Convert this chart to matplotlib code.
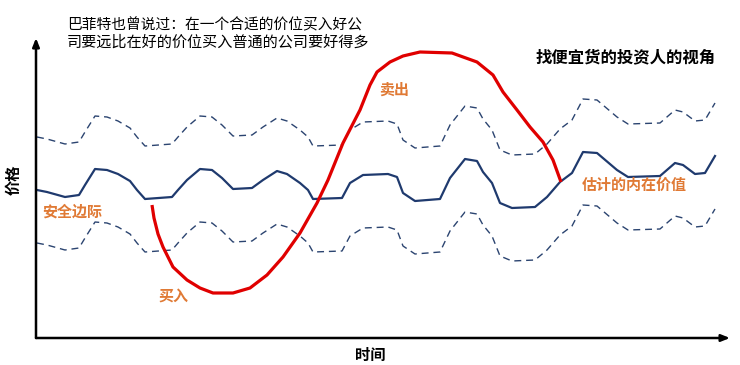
import matplotlib

matplotlib.use("Agg")
import matplotlib.pyplot as plt
import numpy as np

plt.rcParams["font.family"] = ["Noto Sans CJK SC", "DejaVu Sans"]

# estimated intrinsic value over time (arbitrary units)
value_time = [1, 11, 29, 43, 49, 59, 71, 82, 94, 101, 109, 136, 142, 151, 164, 176,
              186, 197, 216, 227, 241, 251, 264, 272, 277, 306, 314, 327, 352, 361,
              367, 379, 404, 414, 429, 441, 447, 456, 464, 476, 499, 511, 524, 536,
              547, 561, 581, 592, 624, 639, 647, 659, 669, 679]
value_level = [148, 146, 141, 143, 153, 169, 168, 164, 157, 148, 139, 141, 148, 158,
               169, 168, 160, 149, 150, 158, 167, 164, 155, 148, 139, 140, 155, 163,
               164, 161, 145, 137, 139, 160, 179, 177, 166, 155, 135, 130, 131, 141,
               156, 165, 186, 185, 168, 161, 162, 175, 173, 164, 165, 182]
safety_margin = 53

# market price path
price_time = [116, 118, 122, 127, 137, 151, 164, 177, 197, 214, 231, 247, 264, 281, 292,
              307, 324, 334, 341, 354, 367, 384, 416, 441, 457, 467, 481, 494, 507,
              517, 525]
price_level = [133, 120, 104, 91, 71, 58, 50, 45, 45, 50, 63, 81, 105, 135, 158, 195,
               228, 253, 266, 276, 282, 286, 285, 276, 263, 246, 228, 211, 196, 178, 156]

NAVY = "#1f3a6e"
DASH = "#2b4470"
RED = "#e00000"
ORANGE = "#e07a35"

W, H = 740, 365
fig = plt.figure(figsize=(W / 100, H / 100), dpi=100)
ax = fig.add_axes([36 / W, 27 / H, 694 / W, 300 / H])
ax.set_xlim(0, 694)
ax.set_ylim(0, 300)
ax.axis("off")

vt = np.array(value_time)
vl = np.array(value_level)
ax.plot(vt, vl, color=NAVY, lw=1.6, solid_joinstyle="round")
ax.plot(vt, vl + safety_margin, color=DASH, lw=1.0, dashes=(5, 3.5))
ax.plot(vt, vl - safety_margin, color=DASH, lw=1.0, dashes=(5, 3.5))
ax.plot(price_time, price_level, color=RED, lw=2.3, solid_capstyle="butt",
        solid_joinstyle="round")

# axes with arrow heads
arrow = {"arrowstyle": "-|>,head_length=0.5,head_width=0.2", "lw": 1.8, "color": "black",
         "shrinkA": 0, "shrinkB": 0}
ax.annotate("", xy=(0, 1.0), xytext=(0, 0), xycoords="axes fraction", arrowprops=arrow)
ax.annotate("", xy=(1.0, 0), xytext=(0, 0), xycoords="axes fraction", arrowprops=arrow)


def px(x, y):
    return x / W, 1 - y / H


fig.text(*px(67, 25), "巴菲特也曾说过：在一个合适的价位买入好公", fontsize=10.6,
         ha="left", va="center")
fig.text(*px(67, 42), "司要远比在好的价位买入普通的公司要好得多", fontsize=10.9,
         ha="left", va="center")
fig.text(*px(626, 57), "找便宜货的投资人的视角", fontsize=11.8, fontweight="bold",
         ha="center", va="center")

fig.text(*px(394, 90), "卖出", fontsize=10.8, color=ORANGE, fontweight="bold",
         ha="center", va="center")
fig.text(*px(634, 185), "估计的内在价值", fontsize=10.8, color=ORANGE, fontweight="bold",
         ha="center", va="center")
fig.text(*px(72, 212), "安全边际", fontsize=10.8, color=ORANGE, fontweight="bold",
         ha="center", va="center")
fig.text(*px(173, 297), "买入", fontsize=10.8, color=ORANGE, fontweight="bold",
         ha="center", va="center")

fig.text(*px(14, 180), "价格", fontsize=11, fontweight="bold", rotation=90,
         ha="center", va="center")
fig.text(*px(370, 355), "时间", fontsize=11, fontweight="bold", ha="center", va="center")

fig.savefig("out.png", dpi=100)
